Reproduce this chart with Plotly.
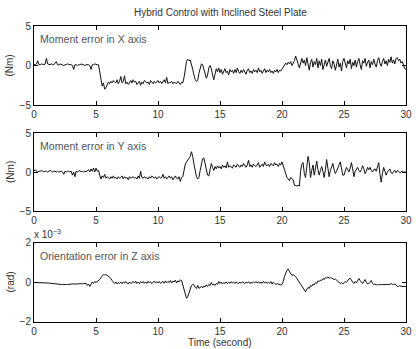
import plotly.graph_objects as go

x_moment_err = [
    0.1, 0.1, 0.2, 0.6, 0.1, 0.1, 0.2, 0.1, 0.1, 0.2,
    0.9, 0.2, 0.1, 0.1, 0.2, 0.1, 0.1, 0.3, 0.5, 0.1,
    0.1, 0.2, 0.1, 0.1, 0.0, 0.1, 0.1, 0.2, 0.1, 0.1,
    0.1, 0.0, -0.5, 0.1, 0.1, 0.0, 0.1, 0.1, 0.2, 0.1,
    0.1, 0.0, 0.1, 0.1, 0.1, 0.0, -0.5, 0.1, 0.1, 0.2,
    0.1, 0.1, 0.1, -1.0, -2.0, -2.6, -2.2, -3.0, -2.8, -2.3,
    -2.1, -2.3, -2.0, -2.2, -1.9, -2.1, -2.2, -1.8, -2.3, -2.0,
    -1.4, -2.2, -2.0, -1.3, -2.3, -2.1, -2.4, -2.2, -1.9, -2.2,
    -1.8, -2.1, -2.0, -2.4, -2.2, -2.0, -2.5, -2.1, -2.3, -1.9,
    -2.0, -2.2, -2.1, -2.4, -1.9, -2.1, -2.3, -2.0, -2.2, -2.1,
    -1.9, -2.2, -2.0, -2.3, -2.1, -1.8, -2.2, -1.5, -2.3, -2.1,
    -2.2, -2.0, -2.3, -2.1, -2.2, -2.3, -2.0, -2.2, -2.4, -2.1,
    -2.2, -1.5, -0.3, 0.5, 0.8, 0.6, 0.7, 0.2, -0.5, -1.2,
    -1.8, -2.0, -1.9, -1.0, -0.2, 0.2, 0.1, -0.6, -1.3, -1.6,
    -1.2, -0.3, 0.0, -0.4, -1.2, -1.8, -1.1, -0.4, -0.8, -0.3,
    -0.9, -0.5, -1.1, -0.6, -0.4, -0.9, -0.7, -1.2, -0.5, -0.8,
    -0.6, -1.0, -0.5, -0.9, -0.3, -0.8, -1.0, -0.6, -0.9, -0.5,
    -0.8, -1.1, -0.6, -0.4, -0.9, -0.7, -1.0, -0.5, -0.8, -0.6,
    -0.9, -0.3, -0.8, -0.6, -1.0, -0.7, -0.4, -0.9, -0.6, -0.8,
    -0.5, -0.9, -0.7, -1.0, -0.6, -0.8, -0.5, -0.9, -0.6, -0.7,
    -0.4, -0.2, 0.0, 0.3, 0.1, 0.4, 0.2, 0.5, 0.0, 0.3,
    0.6, 1.2, 0.8, 0.2, -0.3, 0.5, 0.9, 0.3, 0.7, 0.0,
    1.0, 0.2, -0.6, 0.4, 0.8, -0.2, 0.5, 0.1, 0.9, -0.3,
    0.6, 0.0, 0.8, -0.5, 0.3, 0.7, -0.1, 0.5, 0.9, 0.0,
    -0.4, 0.6, 0.2, -0.6, 0.4, 0.8, -0.2, 0.3, -0.7, 0.5,
    0.9, 0.1, -0.3, 0.6, 0.2, 0.8, -0.4, 0.4, 0.0, 0.7,
    -0.2, 0.5, 0.9, 0.1, -0.5, 0.6, 0.3, 0.9, -0.1, 0.4,
    0.7, -0.3, 0.5, 0.1, 0.8, 0.2, -0.2, 0.6, 1.0, 0.3,
    -0.1, 0.5, 0.9, 0.2, 0.6, 0.0, 0.8, 0.4, 1.1, 0.3,
    0.7, 0.2, 0.9, 1.0, 0.6, 0.8, 0.3, 0.5, 0.1, -0.4,
    -0.5,
]

y_moment_err = [
    0.1, 0.3, 0.1, 0.0, 0.1, 0.1, 0.2, 0.1, 0.0, 0.1,
    0.1, 0.0, 0.1, 0.2, 0.1, 0.0, 0.1, 0.1, 0.0, 0.1,
    0.0, 0.1, 0.1, 0.0, -0.3, 0.1, 0.0, 0.1, 0.1, 0.0,
    0.1, -0.4, 0.0, -0.6, 0.1, 0.0, 0.1, 0.2, 0.0, 0.1,
    0.0, 0.1, 0.0, 0.1, 0.3, 0.0, 0.4, 0.1, 0.5, 0.0,
    0.5, 0.1, 0.2, -0.4, -0.9, -0.5, -0.7, -0.3, -0.8, -0.6,
    -0.7, -0.9, -0.6, -0.8, -0.5, -0.8, -0.7, -0.9, -0.6, -0.8,
    -0.7, -0.5, -0.9, -0.6, -0.8, -0.7, -1.0, -0.6, -0.8, -0.7,
    -0.6, -0.8, -0.7, -0.9, -0.5, -0.8, 0.1, -0.7, -0.8, -0.6,
    -0.8, -0.7, -0.9, -0.6, -0.8, -0.5, -0.7, -0.8, -0.6, -0.9,
    -0.7, -0.6, -0.8, -0.7, -0.3, -0.8, -0.6, -0.9, -0.7, -0.5,
    -0.8, -0.6, -1.0, -0.7, -0.5, -0.8, -0.9, -0.6, -1.2, -0.7,
    -0.6, 0.2, 1.0, 1.3, 1.5, 1.7, 2.0, 2.6, 2.0, 1.0,
    0.0, -0.6, -0.9, -0.7, 0.2, 1.2, 1.7, 1.8, 1.0, 0.2,
    -0.4, -0.5, 0.3, 1.1, 0.6, 0.2, 0.7, 0.4, 0.8, 0.5,
    0.7, 0.4, 0.9, 0.6, 0.8, 0.5, 1.3, 0.6, 0.8, 0.7,
    0.5, 0.9, 0.7, 0.6, 1.0, 0.8, 0.6, 0.9, 0.7, 1.1,
    0.8, 0.6, 0.9, 1.5, 0.7, 0.9, 0.6, 1.0, 0.8, 0.7,
    0.9, 1.2, 0.6, 0.8, 1.0, 0.7, 1.3, 0.9, 0.8, 1.0,
    0.7, 1.1, 0.9, 0.8, 1.2, 0.9, 1.0, 0.7, 1.1, 0.9,
    1.3, 0.8, 0.0, -0.5, -0.7, -0.9, -1.1, -0.7, -0.8, -1.0,
    -1.7, -1.8, -1.8, -1.7, -1.8, 0.1, 1.0, 1.2, -0.2, -0.7,
    0.8, 2.0, 1.2, -0.7, 0.2, 0.9, -0.4, 0.6, 1.4, 0.3,
    -0.4, 0.2, 0.7, 0.1, -0.7, 0.3, 1.6, 0.5, -0.6, 0.2,
    0.6, 1.1, 0.3, -0.2, 0.1, 0.4, 0.9, 1.3, 0.2, -0.4,
    -0.4, 0.2, 0.6, 0.3, 0.0, 0.5, 1.2, 0.4, -0.6, 0.1,
    0.4, 0.6, 0.2, 0.0, 0.3, 0.8, 0.4, -0.2, 0.1, 0.6,
    0.3, 0.6, 0.2, 0.0, 0.3, 0.4, 0.1, 0.8, 1.2, -0.3,
    -1.3, -0.2, 0.6, 0.1, -0.4, 0.0, 0.2, 0.4, -0.1, -0.2,
    0.1, 0.2, -0.1, 0.2, 0.1, -0.1, 0.0, 0.1, 0.0, 0.0,
    0.0,
]

# orientation error in units of 1e-3 rad
z_orient_err_e3 = [
    0.0, 0.0, 0.0, 0.0, 0.0, 0.0, -0.01, -0.01, -0.01, -0.02,
    -0.02, -0.02, -0.03, -0.04, -0.05, -0.06, -0.07, -0.08, -0.09, -0.1,
    -0.1, -0.1, -0.1, -0.1, -0.09, -0.09, -0.1, -0.1, -0.09, -0.08,
    -0.08, -0.08, -0.07, -0.08, -0.07, -0.06, -0.07, -0.06, -0.06, -0.07,
    -0.05, -0.06, -0.04, -0.15, -0.08, -0.2, -0.1, 0.02, -0.05, 0.05,
    0.0, 0.05, 0.1, 0.15, 0.25, 0.35, 0.4, 0.38, 0.4, 0.35,
    0.33, 0.25, 0.2, 0.1, 0.0, -0.05, 0.02, -0.08, 0.0, -0.05,
    0.02, -0.06, 0.03, -0.04, 0.05, -0.02, -0.08, 0.03, -0.05, 0.0,
    0.05, -0.03, 0.06, -0.05, 0.02, -0.06, 0.04, -0.02, 0.05, -0.04,
    0.03, -0.05, 0.06, -0.02, 0.04, -0.06, 0.02, 0.07, -0.03, 0.04,
    -0.02, 0.05, -0.05, 0.03, 0.06, -0.04, 0.08, -0.02, 0.05, 0.0,
    0.1, -0.03, 0.07, 0.02, 0.12, -0.02, 0.08, 0.03, 0.13, 0.1,
    -0.1, -0.35, -0.6, -0.8, -0.72, -0.5, -0.3, -0.15, -0.1, -0.12,
    -0.25, -0.3, -0.15, -0.3, -0.25, -0.2, -0.28, -0.18, -0.22, -0.12,
    -0.2, -0.1, -0.15, 0.0, -0.12, -0.08, -0.15, -0.05, -0.1, 0.05,
    -0.05, 0.02, -0.08, 0.0, -0.05, 0.03, -0.06, 0.01, -0.04, 0.04,
    -0.03, 0.02, -0.05, 0.03, -0.02, -0.06, 0.02, -0.04, 0.03, -0.02,
    -0.05, 0.02, -0.03, 0.04, -0.05, 0.01, -0.04, 0.03, -0.02, 0.05,
    -0.03, 0.04, -0.05, 0.02, -0.04, 0.06, -0.02, 0.03, -0.05, 0.02,
    -0.04, 0.05, -0.08, 0.02, -0.05, -0.1, -0.06, -0.08, -0.1, -0.12,
    -0.1, 0.05, 0.3, 0.5, 0.62, 0.68, 0.55, 0.4, 0.35, 0.4,
    0.35, 0.3, 0.2, 0.1, 0.0, -0.1, -0.2, -0.3, -0.4, -0.47,
    -0.35, -0.25, -0.3, -0.15, -0.2, -0.08, -0.12, 0.0, -0.05, 0.08,
    0.05, 0.12, 0.1, 0.2, 0.15, 0.25, 0.22, 0.28, 0.2, 0.26,
    0.22, 0.2, 0.15, 0.18, 0.1, 0.05, 0.0, -0.05, 0.0, -0.08,
    -0.02, 0.05, 0.0, 0.1, 0.18, 0.22, 0.1, 0.02, -0.05, 0.05,
    -0.02, 0.08, 0.2, 0.1, 0.0, -0.05, 0.05, 0.15, 0.02, -0.08,
    -0.05, 0.0, 0.1, -0.05, -0.1, -0.08, -0.12, -0.1, -0.12, -0.1,
    -0.1, -0.1, -0.1, -0.1, -0.1, -0.1, -0.1, -0.1, -0.05, -0.1,
    -0.1, -0.08, -0.12, -0.2, -0.2, -0.15, -0.2, -0.2, -0.2, -0.2,
    -0.2,
]

x_ticks = [0, 5, 10, 15, 20, 25, 30]
moment_ticks = [-5, 0, 5]
orient_ticks = [-2, 0, 2]

panel_labels = ["Moment error in X axis", "Moment error in Y axis", "Orientation error in Z axis"]
unit_labels = ["(Nm)", "(Nm)", "(rad)"]
title_text = "Hybrid Control with Inclined Steel Plate"
xlabel_text = "Time (second)"


def times(vals):
    return [i / 10 for i in range(len(vals))]


FONT = "Liberation Sans, Arial, sans-serif"
TXT = "#333333"

fig = go.Figure()
series = [x_moment_err, y_moment_err, z_orient_err_e3]
for i, vals in enumerate(series):
    sfx = "" if i == 0 else str(i + 1)
    fig.add_trace(go.Scatter(x=times(vals), y=vals, mode="lines",
                             line=dict(color="#111111", width=1),
                             xaxis="x" + sfx, yaxis="y" + sfx, showlegend=False))

domains = [[0.733, 1.0], [0.375, 0.6385], [0.0, 0.267]]
yranges = [[-5, 5], [-5, 5], [-2, 2]]
yticks = [moment_ticks, moment_ticks, orient_ticks]

axis_common = dict(showline=True, mirror="ticks", linecolor="black", linewidth=1,
                   ticks="inside", ticklen=4, tickcolor="black", tickwidth=1,
                   showgrid=False, zeroline=False, ticklabeloverflow="allow",
                   tickfont=dict(family=FONT, size=10, color=TXT))

annotations = []
for i in range(3):
    sfx = "" if i == 0 else str(i + 1)
    fig.layout["xaxis" + sfx] = dict(axis_common, domain=[0, 1], range=[0, 30],
                                     tickvals=x_ticks, anchor="y" + sfx)
    fig.layout["yaxis" + sfx] = dict(axis_common, domain=domains[i], range=yranges[i],
                                     tickvals=yticks[i], anchor="x" + sfx)
    annotations.append(dict(text=panel_labels[i], xref="x" + sfx + " domain",
                            yref="y" + sfx + " domain", x=0.012, y=1, yshift=-5,
                            xanchor="left", yanchor="top", showarrow=False,
                            font=dict(family=FONT, size=10.6, color="#555555")))
    annotations.append(dict(text=unit_labels[i], xref="paper",
                            yref="y" + sfx + " domain", x=0, y=0.5, xshift=-24,
                            xanchor="center", yanchor="middle", textangle=-90,
                            showarrow=False, font=dict(family=FONT, size=10, color=TXT)))

annotations.append(dict(text="x 10<sup>\u22123</sup>", xref="paper", yref="y3 domain",
                        x=0, y=1, xshift=-2, yshift=1, xanchor="left", yanchor="bottom",
                        showarrow=False, font=dict(family=FONT, size=10, color=TXT)))
annotations.append(dict(text=title_text, xref="paper", yref="paper", x=0.5, y=1,
                        yshift=6, xanchor="center", yanchor="bottom", showarrow=False,
                        font=dict(family=FONT, size=10, color=TXT)))
annotations.append(dict(text=xlabel_text, xref="paper", yref="paper", x=0.5, y=0,
                        yshift=-13, xanchor="center", yanchor="top", showarrow=False,
                        font=dict(family=FONT, size=10, color=TXT)))

fig.update_layout(width=416, height=349, margin=dict(l=34, r=4, t=26, b=27),
                  paper_bgcolor="white", plot_bgcolor="white",
                  annotations=annotations)

fig.write_html("out.html")
